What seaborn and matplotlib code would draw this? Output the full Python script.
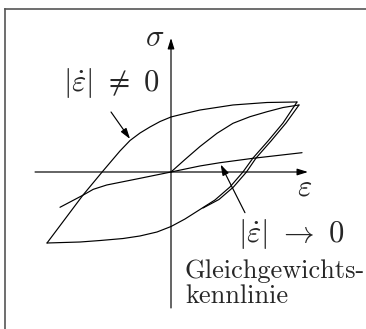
import matplotlib
matplotlib.use("Agg")
import matplotlib.pyplot as plt
import seaborn as sns
import pandas as pd

# Hysteresis sketch: stress sigma over strain epsilon (normalised units)
upper_eps = [-0.984, -0.841, -0.698, -0.540, -0.405, -0.325, -0.246, -0.167, -0.087, 0.0,
             0.111, 0.230, 0.492, 0.762, 1.0]
upper_sig = [-1.000, -0.662, -0.324, 0.014, 0.296, 0.444, 0.549, 0.634, 0.711, 0.775,
             0.824, 0.873, 0.944, 0.979, 0.986]

lower_eps = [1.0, 0.889, 0.770, 0.651, 0.571, 0.468, 0.349, 0.230, 0.111, 0.0, -0.111,
             -0.246, -0.381, -0.563, -0.722, -0.984]
lower_sig = [0.986, 0.690, 0.437, 0.197, 0.0, -0.211, -0.394, -0.528, -0.662, -0.768,
             -0.845, -0.901, -0.937, -0.965, -0.986, -1.000]

virgin_eps = [0.0, 0.111, 0.230, 0.365, 0.492, 0.627, 0.762, 0.889, 1.016]
virgin_sig = [0.0, 0.176, 0.359, 0.545, 0.686, 0.779, 0.849, 0.908, 0.944]

unload_eps = [1.016, 0.913, 0.794, 0.675, 0.599, 0.496, 0.381, 0.254]
unload_sig = [0.944, 0.690, 0.437, 0.197, 0.0, -0.211, -0.387, -0.507]

equil_eps = [-0.881, -0.696, -0.617, -0.510, -0.246, 0.0, 0.230, 0.389, 0.651, 1.040]
equil_sig = [-0.497, -0.324, -0.244, -0.183, -0.089, 0.0, 0.085, 0.131, 0.193, 0.272]

branches = {
    "upper": (upper_eps, upper_sig),
    "lower": (lower_eps, lower_sig),
    "virgin": (virgin_eps, virgin_sig),
    "unload": (unload_eps, unload_sig),
    "equilibrium": (equil_eps, equil_sig),
}

# coordinate axes extents and pointer arrows (tail, tip)
eps_axis = [-1.079, 1.087]
sig_axis = [-1.915, 1.887]
arrow_fast = [(-0.476, 0.845), (-0.325, 0.465)]
arrow_slow = [(0.587, -0.573), (0.394, 0.106)]

sns.set_theme(style="white")
plt.rcParams["mathtext.fontset"] = "cm"
plt.rcParams["font.family"] = ["cmr10", "DejaVu Sans"]
plt.rcParams["axes.unicode_minus"] = False

fig = plt.figure(figsize=(3.66, 3.29), dpi=100)
ax = fig.add_axes([4.5 / 366, 0.0, 1 - 4.5 / 366, (329 - 8.5) / 329])
ax.set_xlim(-1.3214, 1.5476)
ax.set_ylim(-2.2113, 2.3028)

for name, (xs, ys) in branches.items():
    df = pd.DataFrame({"eps": xs, "sig": ys})
    sns.lineplot(data=df, x="eps", y="sig", sort=False, estimator=None,
                 color="black", lw=0.85, ax=ax)

arrow_style = "-|>,head_length=0.32,head_width=0.1"
arrow_props = dict(arrowstyle=arrow_style, color="black", lw=0.85,
                   mutation_scale=20, shrinkA=0, shrinkB=0)
ax.annotate("", xy=(eps_axis[1], 0), xytext=(eps_axis[0], 0), arrowprops=arrow_props)
ax.annotate("", xy=(0, sig_axis[1]), xytext=(0, sig_axis[0]), arrowprops=arrow_props)
for tail, tip in (arrow_fast, arrow_slow):
    ax.annotate("", xy=tip, xytext=tail, arrowprops=arrow_props)

math_size = 22
ax.text(-0.129, 1.775, r"$\sigma$", fontsize=math_size, ha="center", va="baseline")
ax.text(1.063, -0.324, r"$\varepsilon$", fontsize=math_size, ha="center", va="baseline")
ax.text(-0.472, 1.145, r"$|\dot{\varepsilon}|\ \neq\ 0$", fontsize=math_size,
        ha="center", va="baseline")
ax.text(0.958, -0.982, r"$|\dot{\varepsilon}|\ \rightarrow\ 0$", fontsize=math_size,
        ha="center", va="baseline")
ax.text(0.111, -1.497, "Gleichgewichts-", fontsize=19, ha="left", va="baseline")
ax.text(0.111, -1.849, "kennlinie", fontsize=19, ha="left", va="baseline")

ax.set_xlabel("")
ax.set_ylabel("")
ax.set_xticks([])
ax.set_yticks([])
for side in ("right", "bottom"):
    ax.spines[side].set_visible(False)
for side in ("left", "top"):
    ax.spines[side].set_color("#555555")
    ax.spines[side].set_linewidth(1.2)

fig.savefig("out.png", dpi=100)
